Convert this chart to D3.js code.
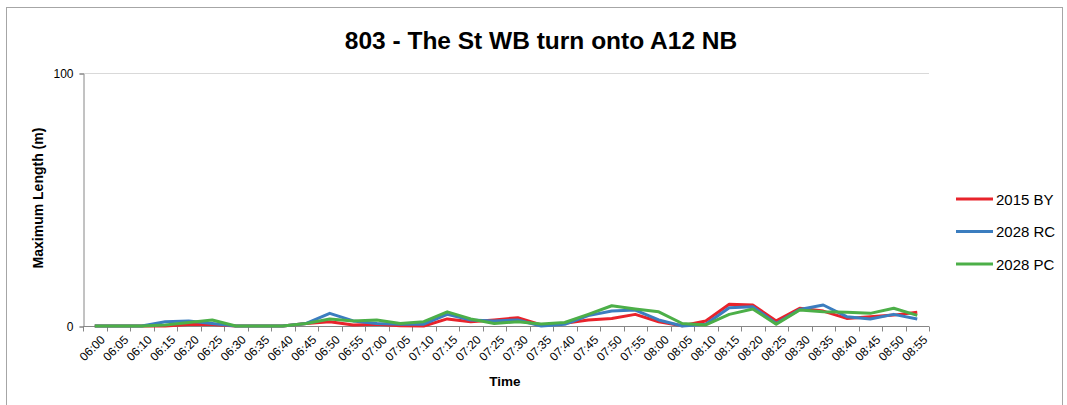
<!DOCTYPE html>
<html lang="en">
<head>
<meta charset="UTF-8">
<title>803 - The St WB turn onto A12 NB</title>
<script src="https://cdn.jsdelivr.net/npm/d3@7"></script>
<style>
  body { margin: 0; background: #fff; }
  text { font-family: "Liberation Sans", Arial, sans-serif; }
</style>
</head>
<body>
<script>
  const times = ["06:00","06:05","06:10","06:15","06:20","06:25","06:30","06:35","06:40","06:45",
                 "06:50","06:55","07:00","07:05","07:10","07:15","07:20","07:25","07:30","07:35",
                 "07:40","07:45","07:50","07:55","08:00","08:05","08:10","08:15","08:20","08:25",
                 "08:30","08:35","08:40","08:45","08:50","08:55"];

  const by2015 = [0, 0, 0, 0, 0.6, 0.6, 0, 0, 0, 1,
                  1.7, 0.4, 0.7, 0.1, 0, 2.8, 1.7, 2.4, 3.3, 0.4,
                  1.1, 2.4, 3.0, 4.6, 1.7, 0.1, 2, 8.6, 8.3, 2,
                  7, 5.9, 3, 3.7, 4.3, 5.4];
  const rc2028 = [0, 0, 0, 1.7, 2, 1, 0, 0, 0, 1,
                  5, 2, 1, 0.7, 0.7, 4.6, 2.4, 2, 2.4, 0,
                  0.7, 4.1, 5.9, 6.3, 2.4, 0, 0.7, 7.2, 7.6, 1,
                  6.5, 8.3, 3.7, 2.8, 4.6, 2.8];
  const pc2028 = [0, 0, 0, 0.4, 1.4, 2.4, 0, 0, 0, 1,
                  2.8, 2, 2.4, 1, 1.7, 5.6, 2.8, 1, 1.7, 0.8,
                  1.4, 4.6, 8.0, 6.7, 5.6, 1, 0.4, 4.6, 6.7, 0.7,
                  6.3, 5.6, 5.4, 5, 7, 4.2];

  const seriesNames = ["2015 BY", "2028 RC", "2028 PC"];
  const seriesColors = ["#e8232b", "#3b7dbf", "#4caf48"];
  const yTicks = [0, 100];

  const w = 1067, h = 405;
  const plotLeft = 83, plotRight = 929, plotTop = 73, plotBottom = 326;

  const svg = d3.select("body").append("svg")
      .attr("width", w).attr("height", h);

  // chart frame
  svg.append("rect")
     .attr("x", 6.5).attr("y", 7.5)
     .attr("width", 1056).attr("height", 410)
     .attr("fill", "none").attr("stroke", "#a6a6a6");

  const x = d3.scaleBand().domain(times).range([plotLeft, plotRight]);
  const y = d3.scaleLinear().domain([0, 100]).range([plotBottom, plotTop]);

  // top gridline
  svg.append("line")
     .attr("x1", plotLeft).attr("x2", plotRight)
     .attr("y1", y(100) + 0.5).attr("y2", y(100) + 0.5)
     .attr("stroke", "#d9d9d9");

  // y axis
  const yAxis = svg.append("g")
     .attr("transform", `translate(${plotLeft + 0.5},0.5)`)
     .call(d3.axisLeft(y).tickValues(yTicks).tickSize(4).tickPadding(6));
  yAxis.select(".domain").attr("stroke", "#868686");
  yAxis.selectAll(".tick line").attr("stroke", "#868686");
  yAxis.selectAll("text").attr("font-size", 12).attr("fill", "#000")
       .style("font-family", "Liberation Sans, Arial, sans-serif");

  // x axis
  const xAxis = svg.append("g")
     .attr("transform", `translate(0,${plotBottom + 0.5})`);
  xAxis.append("line")
     .attr("x1", plotLeft).attr("x2", plotRight).attr("stroke", "#868686");
  const bounds = times.map(t => x(t)).concat([plotRight]);
  xAxis.selectAll("line.tk").data(bounds).enter().append("line")
     .attr("class", "tk")
     .attr("x1", d => Math.round(d) + 0.5).attr("x2", d => Math.round(d) + 0.5)
     .attr("y1", 0).attr("y2", 5).attr("stroke", "#868686");
  xAxis.selectAll("text").data(times).enter().append("text")
     .attr("transform", d => `translate(${x(d) + x.bandwidth() / 2 + 5},${8}) rotate(-45)`)
     .attr("text-anchor", "end")
     .attr("dy", "0.7em")
     .attr("font-size", 12)
     .text(d => d);

  // lines
  const allSeries = [by2015, rc2028, pc2028];
  const line = d3.line()
     .x((d, i) => x(times[i]) + x.bandwidth() / 2)
     .y(d => y(d));
  allSeries.forEach((s, k) => {
    svg.append("path")
       .datum(s)
       .attr("fill", "none")
       .attr("stroke", seriesColors[k])
       .attr("stroke-width", 3)
       .attr("stroke-linejoin", "round")
       .attr("d", line);
  });

  // title
  svg.append("text")
     .attr("x", 541).attr("y", 49)
     .attr("text-anchor", "middle")
     .attr("font-size", 24.5).attr("font-weight", "bold")
     .text("803 - The St WB turn onto A12 NB");

  // axis titles
  svg.append("text")
     .attr("x", 505).attr("y", 386)
     .attr("text-anchor", "middle")
     .attr("font-size", 13.5).attr("font-weight", "bold")
     .text("Time");

  svg.append("text")
     .attr("transform", "translate(43,198) rotate(-90)")
     .attr("text-anchor", "middle")
     .attr("font-size", 14).attr("font-weight", "bold")
     .text("Maximum Length (m)");

  // legend
  const legend = svg.append("g").attr("transform", "translate(956,199)");
  seriesNames.forEach((name, k) => {
    const g = legend.append("g").attr("transform", `translate(0,${k * 32.5})`);
    g.append("line")
     .attr("x1", 0).attr("x2", 37)
     .attr("stroke", seriesColors[k]).attr("stroke-width", 3);
    g.append("text")
     .attr("x", 40).attr("y", 5.5)
     .attr("font-size", 15)
     .text(name);
  });
</script>
</body>
</html>
